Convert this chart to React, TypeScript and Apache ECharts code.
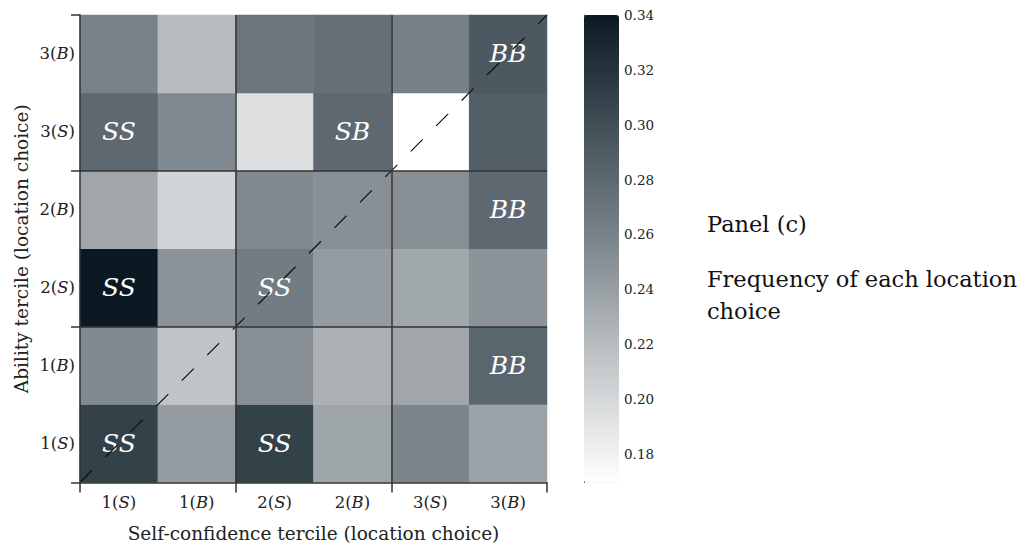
import React, { useEffect, useRef } from "react";
import * as echarts from "echarts";

const xCategories = ["1(S)", "1(B)", "2(S)", "2(B)", "3(S)", "3(B)"];
const yCategories = ["1(S)", "1(B)", "2(S)", "2(B)", "3(S)", "3(B)"];

// rows from bottom (1(S)) to top (3(B)); columns follow xCategories
const row1S = [0.31, 0.242, 0.31, 0.236, 0.258, 0.237];
const row1B = [0.255, 0.215, 0.25, 0.228, 0.235, 0.282];
const row2S = [0.34, 0.248, 0.265, 0.242, 0.234, 0.248];
const row2B = [0.235, 0.202, 0.255, 0.25, 0.25, 0.28];
const row3S = [0.28, 0.255, 0.195, 0.28, 0.1697, 0.287];
const row3B = [0.26, 0.22, 0.27, 0.275, 0.262, 0.292];
const rows = [row1S, row1B, row2S, row2B, row3S, row3B];

const labels1S = ["SS", "", "SS", "", "", ""];
const labels1B = ["", "", "", "", "", "BB"];
const labels2S = ["SS", "", "SS", "", "", ""];
const labels2B = ["", "", "", "", "", "BB"];
const labels3S = ["SS", "", "", "SB", "", ""];
const labels3B = ["", "", "", "", "", "BB"];
const cellLabels = [labels1S, labels1B, labels2S, labels2B, labels3S, labels3B];

const colorbarTicks = [0.18, 0.2, 0.22, 0.24, 0.26, 0.28, 0.3, 0.32, 0.34];
const colorMin = 0.1696;
const colorMax = 0.34;
const tercileBounds = [0, 6];
const diagonal = [
  [0, 0],
  [6, 6],
];

const FONT = "DejaVu Serif";

function richTick(v: string) {
  const m = v.match(/^(\d)\((\w)\)$/);
  if (!m) return v;
  return `{n|${m[1]}(}{i|${m[2]}}{n|)}`;
}

const TICK_SIZE = 16.5;
const tickRich = {
  n: { fontFamily: FONT, fontSize: TICK_SIZE, color: "#222" },
  i: { fontFamily: FONT, fontSize: TICK_SIZE, color: "#222", fontStyle: "italic" },
};

export default function App() {
  const ref = useRef<HTMLDivElement>(null);

  useEffect(() => {
    if (!ref.current) return;
    const chart = echarts.init(ref.current, undefined, { renderer: "svg" });

    const heatData: any[] = [];
    rows.forEach((row, yi) =>
      row.forEach((v, xi) => heatData.push([xi, yi, v]))
    );

    const gridX = 80;
    const gridY = 15;
    const gridW = 467;
    const gridH = 467.5;

    const option: any = {
      animation: false,
      backgroundColor: "#ffffff",
      textStyle: { fontFamily: FONT },
      grid: [
        { left: gridX, top: gridY, width: gridW, height: gridH },
        { left: 584, top: gridY, width: 35, height: gridH },
      ],
      xAxis: [
        {
          type: "category",
          gridIndex: 0,
          data: xCategories,
          axisLine: { show: false },
          axisTick: { show: false },
          splitLine: { show: false },
          axisLabel: {
            interval: 0,
            formatter: richTick,
            rich: tickRich,
            fontFamily: FONT,
            fontSize: TICK_SIZE,
            color: "#222",
            margin: 11,
          },
          name: "Self-confidence tercile (location choice)",
          nameLocation: "middle",
          nameGap: 41,
          nameTextStyle: { fontFamily: FONT, fontSize: 18.5, color: "#222" },
        },
        {
          type: "value",
          gridIndex: 0,
          min: tercileBounds[0],
          max: tercileBounds[1],
          interval: 2,
          position: "bottom",
          z: 10,
          axisLine: { show: true, lineStyle: { color: "#333", width: 1.5 } },
          axisTick: { show: true, length: 10, lineStyle: { color: "#333", width: 1.5 } },
          axisLabel: { show: false },
          splitLine: {
            show: true,
            showMinLine: false,
            showMaxLine: false,
            lineStyle: { color: "#333", width: 1.5, type: "solid" },
          },
        },
        {
          type: "value",
          gridIndex: 1,
          min: 0,
          max: 1,
          show: false,
        },
      ],
      yAxis: [
        {
          type: "category",
          gridIndex: 0,
          data: yCategories,
          axisLine: { show: false },
          axisTick: { show: false },
          splitLine: { show: false },
          axisLabel: {
            interval: 0,
            formatter: richTick,
            rich: tickRich,
            fontFamily: FONT,
            fontSize: TICK_SIZE,
            color: "#222",
            margin: 5,
          },
          name: "Ability tercile (location choice)",
          nameLocation: "middle",
          nameGap: 49,
          nameRotate: 90,
          nameTextStyle: { fontFamily: FONT, fontSize: 18.5, color: "#222" },
        },
        {
          type: "value",
          gridIndex: 0,
          min: tercileBounds[0],
          max: tercileBounds[1],
          interval: 2,
          position: "left",
          z: 10,
          axisLine: { show: true, lineStyle: { color: "#333", width: 1.5 } },
          axisTick: { show: true, length: 9, lineStyle: { color: "#333", width: 1.5 } },
          axisLabel: { show: false },
          splitLine: {
            show: true,
            showMinLine: false,
            showMaxLine: false,
            lineStyle: { color: "#333", width: 1.5, type: "solid" },
          },
        },
        {
          type: "value",
          gridIndex: 1,
          min: colorMin,
          max: colorMax,
          position: "right",
          axisLine: { show: true, lineStyle: { color: "#444", width: 1 } },
          axisTick: {
            show: true,
            length: 6,
            customValues: colorbarTicks,
            lineStyle: { color: "#444" },
          },
          axisLabel: {
            show: true,
            customValues: colorbarTicks,
            formatter: (v: number) => v.toFixed(2),
            fontFamily: FONT,
            fontSize: 13.5,
            color: "#222",
            margin: 5,
          },
          splitLine: { show: false },
        },
      ],
      visualMap: {
        type: "continuous",
        seriesIndex: 0,
        min: colorMin,
        max: colorMax,
        show: true,
        calculable: false,
        left: 584,
        top: gridY,
        padding: 0,
        itemWidth: 35,
        itemHeight: gridH,
        text: null,
        hoverLink: false,
        inRange: {
          color: ["#ffffff", "#c4c8ca", "#80898f", "#44525a", "#0b1a22"],
        },
      },
      series: [
        {
          type: "heatmap",
          xAxisIndex: 0,
          yAxisIndex: 0,
          data: heatData,
          z: 2,
          label: {
            show: true,
            formatter: (p: any) => cellLabels[p.data[1]][p.data[0]],
            color: "#ffffff",
            fontFamily: FONT,
            fontStyle: "italic",
            fontSize: 25,
          },
          emphasis: { disabled: true },
        },
        {
          type: "line",
          xAxisIndex: 1,
          yAxisIndex: 1,
          data: diagonal,
          symbol: "none",
          silent: true,
          z: 5,
          lineStyle: { color: "#111", width: 1.2, type: [17, 19] },
        },
      ],
      graphic: [
        {
          type: "text",
          left: 707,
          top: 212,
          style: {
            text: "Panel (c)",
            font: `22.5px "${FONT}"`,
            fill: "#111",
          },
        },
        {
          type: "text",
          left: 707,
          top: 263,
          style: {
            text: "Frequency of each location\nchoice",
            font: `22.5px "${FONT}"`,
            lineHeight: 32,
            fill: "#111",
          },
        },
      ],
    };

    chart.setOption(option);
    return () => chart.dispose();
  }, []);

  return (
    <div
      ref={ref}
      style={{ position: "fixed", left: 0, top: 0, width: 1029, height: 548 }}
    />
  );
}
